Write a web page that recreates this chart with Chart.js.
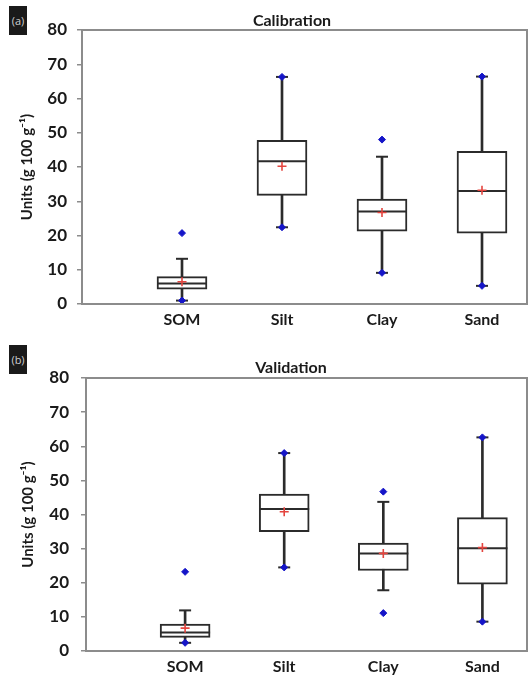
<!DOCTYPE html>
<html>
<head>
<meta charset="utf-8">
<script src="https://cdn.jsdelivr.net/npm/chart.js@4"></script>
<style>
  html, body { margin: 0; padding: 0; background: #fff; }
  #wrap { position: relative; width: 528px; height: 677px; overflow: hidden; font-family: Lato, "Open Sans", sans-serif; }
  .panel { position: absolute; left: 0; width: 528px; }
  .tag { position: absolute; width: 18px; height: 29px; background: #1a1a1a; color: #cfcfcf;
         font: 11px "Open Sans", sans-serif; line-height: 29px; text-align: center; }
  .ttl { position: absolute; width: 200px; margin-left: -100px; text-align: center;
         font: bold 16px Lato, sans-serif; color: #1a1a1a; line-height: 18px; }
</style>
</head>
<body>
<div id="wrap">
  <div class="panel" style="top:0;height:340px"><canvas id="calib" width="528" height="340"></canvas></div>
  <div class="panel" style="top:340px;height:337px"><canvas id="valid" width="528" height="337"></canvas></div>
  <div class="tag" style="left:9px;top:6px">(a)</div>
  <div class="tag" style="left:9px;top:345px">(b)</div>
  <div class="ttl" style="left:292px;top:11px">Calibration</div>
  <div class="ttl" style="left:291px;top:358px">Validation</div>
</div>
<script>
// Soil properties shown on the x axis (positions 1..4)
const categories = ['SOM', 'Silt', 'Clay', 'Sand'];
const yTicks = [0, 10, 20, 30, 40, 50, 60, 70, 80];

// Calibration set summary statistics (g 100 g-1)
const calWhiskerLow  = [1.0, 22.4, 9.1, 5.3];
const calQ1          = [4.3, 31.7, 21.3, 20.7];
const calMedian      = [6.0, 41.7, 27.0, 33.0];
const calQ3          = [8.0, 47.8, 30.6, 44.6];
const calWhiskerHigh = [13.2, 66.3, 43.0, 66.4];
const calMean        = [6.5, 40.2, 26.7, 33.2];
const calMin         = [1.0, 22.4, 9.1, 5.3];
const calMax         = [20.7, 66.3, 48.0, 66.4];

// Validation set summary statistics (g 100 g-1)
const valWhiskerLow  = [2.4, 24.5, 17.8, 8.6];
const valQ1          = [4.0, 35.0, 23.6, 19.6];
const valMedian      = [5.4, 41.6, 28.6, 30.1];
const valQ3          = [7.9, 46.0, 31.6, 39.1];
const valWhiskerHigh = [11.9, 58.0, 43.7, 62.6];
const valMean        = [6.7, 40.8, 28.6, 30.3];
const valMin         = [2.4, 24.5, 11.1, 8.6];
const valMax         = [23.2, 58.0, 46.7, 62.6];

const INK = '#2b2b2b';
const FRAME = '#8c8c8c';

// Gray frame round the plot area
const framePlugin = {
  id: 'frame',
  afterDraw(chart) {
    const a = chart.chartArea, ctx = chart.ctx;
    ctx.save();
    ctx.strokeStyle = FRAME;
    ctx.lineWidth = 2;
    ctx.strokeRect(a.left, a.top, a.right - a.left, a.bottom - a.top);
    ctx.restore();
  }
};

function pts(values) {
  return values.map((v, i) => ({ x: i + 1, y: v }));
}
function ranges(lo, hi) {
  return lo.map((v, i) => ({ x: i + 1, y: [v, hi[i]] }));
}

function buildChart(id, s, geom) {
  const datasets = [
    // whisker stems from the low to the high whisker end
    { type: 'bar', data: ranges(s.wLow, s.wHigh), backgroundColor: INK, borderWidth: 0,
      barThickness: 2, order: 5 },
    // interquartile box
    { type: 'bar', data: ranges(s.q1, s.q3), backgroundColor: '#ffffff', borderColor: INK,
      borderWidth: 2, borderSkipped: false, barThickness: 50, order: 4 },
    // median line
    { type: 'line', data: pts(s.median), showLine: false, pointStyle: 'line', pointRadius: 25,
      borderColor: INK, pointBorderWidth: 2, order: 3 },
    // whisker caps
    { type: 'line', data: pts(s.wLow).concat(pts(s.wHigh)), showLine: false, pointStyle: 'line',
      pointRadius: 6, borderColor: INK, pointBorderWidth: 2, order: 3 },
    // minimum and maximum
    { type: 'line', data: pts(s.min).concat(pts(s.max)), showLine: false, pointStyle: 'rectRot',
      pointRadius: 3.5, backgroundColor: '#1515c8', borderColor: '#1515c8', pointBorderWidth: 1, order: 1 },
    // mean
    { type: 'line', data: pts(s.mean), showLine: false, pointStyle: 'cross', pointRadius: 4.5,
      borderColor: '#e4453f', pointBorderWidth: 1.6, order: 0 }
  ];

  return new Chart(document.getElementById(id), {
    type: 'bar',
    data: { datasets },
    plugins: [framePlugin],
    options: {
      responsive: false,
      animation: false,
      events: [],
      layout: { autoPadding: false, padding: { top: geom.top, right: 1, left: 0, bottom: 0 } },
      datasets: { bar: { grouped: false } },
      plugins: { legend: { display: false }, tooltip: { enabled: false }, title: { display: false } },
      scales: {
        x: {
          type: 'linear',
          min: 0,
          max: 4.45,
          offset: false,
          afterBuildTicks(scale) {
            scale.ticks = categories.map((c, i) => ({ value: i + 1 }));
          },
          ticks: {
            callback: (v) => categories[v - 1] || '',
            font: { family: 'Lato', size: 16, weight: 'bold' },
            color: '#1a1a1a',
            padding: geom.xPad,
            maxRotation: 0,
            autoSkip: false
          },
          grid: { display: false, drawTicks: false },
          border: { display: false },
          afterFit(scale) {
            scale.height = geom.xHeight;
            scale.paddingLeft = 0;
            scale.paddingRight = 0;
          }
        },
        y: {
          min: 0,
          max: 80,
          afterBuildTicks(scale) {
            scale.ticks = yTicks.map(v => ({ value: v }));
          },
          ticks: {
            font: { family: 'Lato', size: 17, weight: 'bold' },
            color: '#1a1a1a',
            padding: geom.yPad
          },
          grid: { drawOnChartArea: false, drawTicks: true, tickLength: 5, color: FRAME, lineWidth: 1.5 },
          border: { display: false },
          title: {
            display: true,
            text: 'Units (g 100 g\u207B\u00B9)',
            font: { family: 'Lato', size: 15, weight: 'bold' },
            color: '#1a1a1a',
            padding: { top: geom.titlePad, bottom: 0 }
          },
          afterFit(scale) {
            scale.width = geom.left;
            scale.paddingTop = 0;
            scale.paddingBottom = 0;
          }
        }
      }
    }
  });
}

buildChart('calib', {
  wLow: calWhiskerLow, q1: calQ1, median: calMedian, q3: calQ3, wHigh: calWhiskerHigh,
  mean: calMean, min: calMin, max: calMax
}, { top: 30, left: 82, xHeight: 36, xPad: 6, yPad: 10, titlePad: 18 });

buildChart('valid', {
  wLow: valWhiskerLow, q1: valQ1, median: valMedian, q3: valQ3, wHigh: valWhiskerHigh,
  mean: valMean, min: valMin, max: valMax
}, { top: 38, left: 86, xHeight: 26, xPad: 6, yPad: 12, titlePad: 19 });
</script>
</body>
</html>
